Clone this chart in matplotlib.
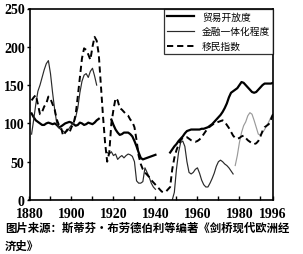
import numpy as np
import matplotlib.pyplot as plt
from matplotlib.ticker import FixedLocator, MultipleLocator

# --- data ---

trade_years = list(range(1881, 1914)) + [np.nan] + list(range(1919, 1941)) + [np.nan] + list(range(1947, 1997))
trade_values = [
    113, 108, 104, 102, 100, 98, 98, 100, 101, 100, 99, 100, 98, 95, 96, 98, 100,
    101, 102, 101, 99, 97, 98, 101, 100, 98, 99, 101, 100, 99, 101, 104, 106,
    np.nan,
    105, 98, 92, 88, 85, 86, 88, 88, 88, 86, 83, 77, 70, 62, 55, 53, 54, 55, 56,
    57, 58, 59,
    np.nan,
    62, 66, 70, 73, 77, 80, 83, 87, 90, 91, 92, 92, 92, 92, 92, 93, 93, 94, 95,
    97, 99, 102, 105, 108, 111, 115, 120, 126, 134, 140, 142, 144, 146, 150, 154,
    153, 150, 147, 144, 141, 140, 141, 144, 147, 150, 152, 152, 152, 152, 153,
]

finance_years = list(range(1881, 1913)) + [np.nan] + list(range(1917, 1941)) + [np.nan] + list(range(1948, 1978))
finance_values = [
    86, 105, 125, 142, 150, 160, 170, 178, 182, 165, 140, 118, 100, 94, 92, 90,
    88, 90, 94, 98, 100, 108, 120, 140, 155, 163, 165, 160, 168, 172, 162, 150,
    np.nan,
    62, 60, 63, 58, 60, 53, 56, 58, 55, 58, 60, 59, 57, 50, 25, 22, 22, 24, 42,
    36, 30, 22, 17, 14,
    np.nan,
    0, 10, 40, 62, 75, 77, 70, 50, 36, 34, 36, 40, 42, 35, 26, 20, 17, 17, 22,
    28, 35, 44, 50, 52, 50, 47, 45, 42, 38, 34,
]
# the later part of the finance series is printed in a lighter grey
finance_late_years = list(range(1978, 1997))
finance_late_values = [45, 58, 75, 88, 97, 102, 110, 114, 112, 104, 95, 86, 85,
                       88, 92, 97, 102, 108, 112]

migration_years = list(range(1881, 1997))
migration_values = [
    130, 134, 137, 125, 112, 115, 122, 126, 135, 132, 125, 118, 105, 98, 95, 84,
    88, 92, 88, 95, 100, 112, 135, 160, 185, 198, 196, 190, 183, 200, 213, 208,
    190, 150, 110, 75, 50, 62, 100, 118, 133, 130, 120, 118, 115, 112, 110, 105,
    102, 95, 78, 58, 47, 40, 36, 33, 30, 26, 23, 20, 17, 14, 11, 10, 11, 14, 17,
    40, 55, 65, 72, 78, 81, 82, 82, 80, 78, 77, 76, 77, 79, 82, 86, 90, 93, 96,
    98, 100, 101, 102, 103, 104, 102, 98, 94, 89, 84, 81, 80, 81, 83, 84, 81, 78,
    76, 74, 73, 74, 77, 83, 90, 95, 97, 99, 105, 112,
]

labels = ["贸易开放度", "金融一体化程度", "移民指数"]
x_ticks = [1880, 1900, 1920, 1940, 1960, 1980, 1996]
y_ticks = [0, 50, 100, 150, 200, 250]
caption = "图片来源：斯蒂芬·布劳德伯利等编著《剑桥现代欧洲经\n济史》"

cjk = ["Noto Sans CJK SC", "DejaVu Sans"]

fig = plt.figure(figsize=(3.03, 2.55), dpi=100)
ax = fig.add_axes([29.5 / 303, 1 - 201 / 255, (273 - 29.5) / 303, (201 - 9.5) / 255])

ax.plot(trade_years, trade_values, color="black", lw=1.6, label=labels[0])
ax.plot(finance_years, finance_values, color="#2a2a2a", lw=0.85, label=labels[1])
ax.plot(finance_late_years, finance_late_values, color="#9a9a9a", lw=0.85)
ax.plot(migration_years, migration_values, color="black", lw=1.4,
        dashes=(3.2, 2.0), label=labels[2])

ax.set_xlim(1880, 1996)
ax.set_ylim(0, 250)
ax.xaxis.set_major_locator(FixedLocator(x_ticks))
ax.xaxis.set_minor_locator(MultipleLocator(10))
ax.yaxis.set_major_locator(FixedLocator(y_ticks))

for sp in ax.spines.values():
    sp.set_linewidth(1.2)
ax.tick_params(axis="x", which="both", direction="in", length=3, width=1, pad=5)
ax.tick_params(axis="y", direction="out", length=2.5, width=1, pad=1)
for t in ax.get_xticklabels() + ax.get_yticklabels():
    t.set_fontfamily("Liberation Serif")
    t.set_fontweight("bold")
    t.set_fontsize(10)

leg = ax.legend(loc="upper right", borderaxespad=0, fancybox=False,
                prop={"family": cjk, "size": 7}, handlelength=2.8,
                handletextpad=0.8, labelspacing=0.5, borderpad=0.3)
leg.get_frame().set_edgecolor("black")
leg.get_frame().set_linewidth(0.9)

fig.text(5 / 303, 1 - 222 / 255, caption, family=cjk, fontsize=8.2,
         fontweight="bold", va="top", ha="left", linespacing=1.45)

fig.savefig("out.png", dpi=100)
